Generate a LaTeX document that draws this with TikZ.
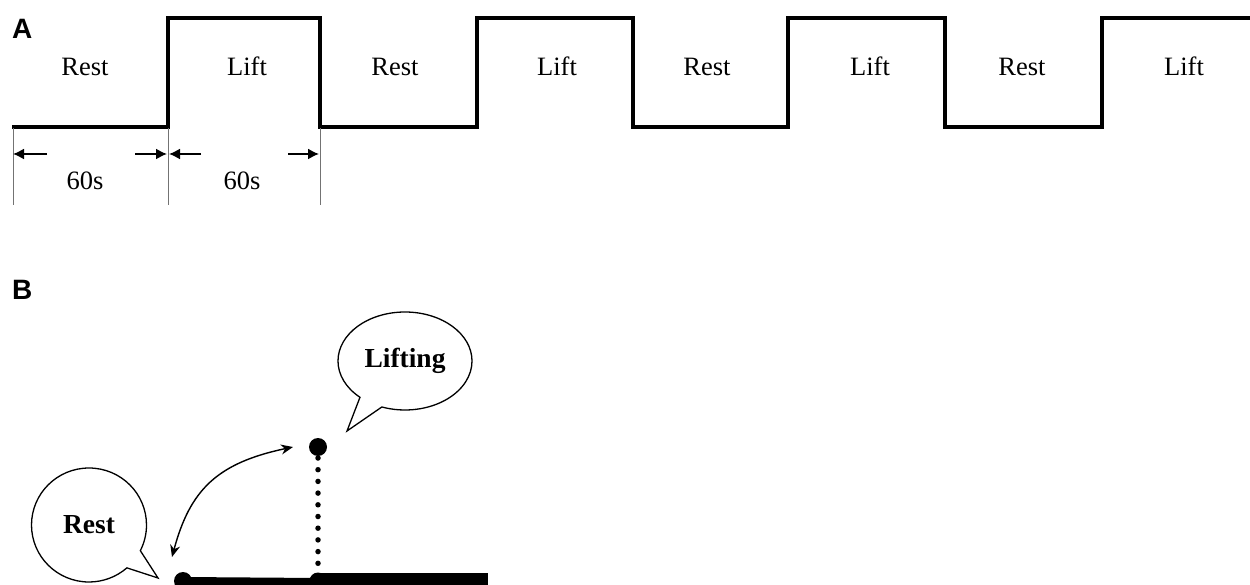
\documentclass[tikz,border=0pt]{standalone}
\usepackage{fontspec}
\setmainfont{Liberation Serif}
\newfontfamily\panelfont{Liberation Sans}
\usetikzlibrary{arrows.meta,shapes.callouts}
\tikzset{
  wave/.style={line width=4pt, line join=miter},
  tick/.style={line width=1pt, draw=black!55},
  dimarrow/.style={line width=1.6pt, -{Latex[length=11pt,width=11pt]}},
  lbl/.style={anchor=base, inner sep=0pt, font=\fontsize{26.5}{30}\selectfont},
  panel/.style={anchor=base west, inner sep=0pt, font=\panelfont\bfseries\fontsize{28}{30}\selectfont},
  bubble/.style={ellipse callout, draw, line width=1.3pt, inner sep=0pt, callout pointer arc=22, font=\bfseries\fontsize{27.5}{30}\selectfont},
  bigdot/.style={circle, fill=black, inner sep=0pt, minimum size=18pt},
}
\begin{document}
\begin{tikzpicture}[x=1pt,y=-1pt]
\useasboundingbox (0,0) rectangle (1250,585);
% ---------- Panel A ----------
\node[panel] (pA) at (12,39) {A};
\draw[wave] (12,127) -- (168,127) -- (168,18) -- (320,18) -- (320,127) -- (477,127) -- (477,18) -- (633,18) -- (633,127) -- (788,127) -- (788,18) -- (945,18) -- (945,127) -- (1102,127) -- (1102,18) -- (1252,18);
\node[lbl] (r1) at (85,76) {Rest};
\node[lbl] (l1) at (247,76) {Lift};
\node[lbl] (r2) at (395,76) {Rest};
\node[lbl] (l2) at (557,76) {Lift};
\node[lbl] (r3) at (707,76) {Rest};
\node[lbl] (l3) at (870,76) {Lift};
\node[lbl] (r4) at (1022,76) {Rest};
\node[lbl] (l4) at (1184,76) {Lift};
% dimension lines
\coordinate (t1a) at (13,128); \coordinate (t1b) at (13,205);
\coordinate (t2a) at (168,128); \coordinate (t2b) at (168,205);
\coordinate (t3a) at (320,128); \coordinate (t3b) at (320,205);
\draw[tick] (t1a) -- (t1b);
\draw[tick] (t2a) -- (t2b);
\draw[tick] (t3a) -- (t3b);
\coordinate (d1s) at (47,154); \coordinate (d1e) at (13,154);
\coordinate (d2s) at (135,154); \coordinate (d2e) at (167,154);
\coordinate (d3s) at (201,154); \coordinate (d3e) at (169,154);
\coordinate (d4s) at (288,154); \coordinate (d4e) at (319,154);
\draw[dimarrow] (d1s) -- (d1e);
\draw[dimarrow] (d2s) -- (d2e);
\draw[dimarrow] (d3s) -- (d3e);
\draw[dimarrow] (d4s) -- (d4e);
\node[lbl] (s1) at (85,190) {60s};
\node[lbl] (s2) at (242,190) {60s};
% ---------- Panel B ----------
\node[panel] (pB) at (12,299) {B};
% base lines
\coordinate (bend) at (488,582);
\node[bigdot] (restdot) at (183,581) {};
\coordinate (mid) at (318,582);
\draw[line width=8pt] (restdot.center) -- (mid);
\draw[line width=18pt] (mid) -- (bend);
\node[circle, fill=black, inner sep=0pt, minimum size=17pt] (middot) at (318,581) {};
\node[bigdot] (topdot) at (318,447) {};
\draw[line width=5.5pt, line cap=round, dash pattern=on 0pt off 11.7pt] ([yshift=-11pt]topdot.center) -- ([yshift=7pt]middot.center);
% bubbles
\node[bubble, minimum width=134pt, minimum height=98pt, callout absolute pointer={(347,431)}] (lifting) at (405,361) {Lifting};
\node[bubble, minimum width=115pt, minimum height=114pt, callout absolute pointer={(158,578)}] (rest) at (89,525) {Rest};
% curved double arrow
\coordinate (a1) at (293,447);
\coordinate (a2) at (172,557);
\draw[line width=1.4pt, {Stealth[length=12pt,width=10pt]}-{Stealth[length=12pt,width=10pt]}] (a1) .. controls (217,463) and (190,490) .. (a2);
\end{tikzpicture}
\end{document}
